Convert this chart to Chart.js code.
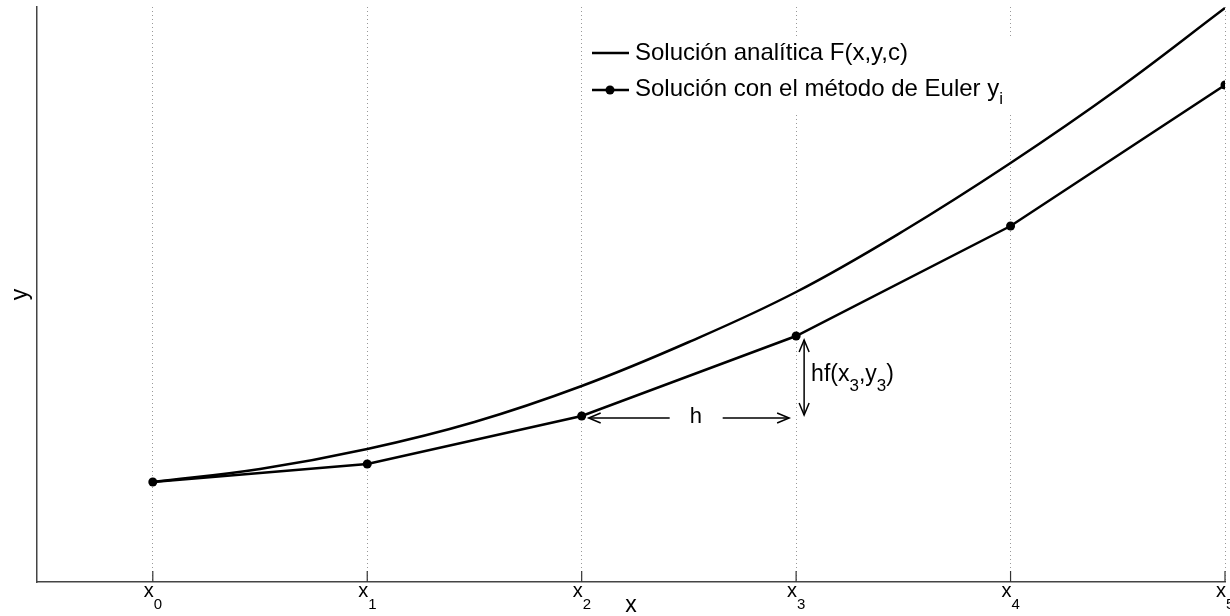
<!DOCTYPE html>
<html>
<head>
<meta charset="utf-8">
<script src="https://cdn.jsdelivr.net/npm/chart.js@4.4.1/dist/chart.umd.min.js"></script>
<style>
  body { margin: 0; background: #fff; }
  canvas { display: block; }
</style>
</head>
<body>
<canvas id="eulerChart" width="1230" height="616"></canvas>
<script>
/* Euler vs analytic solution */

const xTicks = [0, 1, 2, 3, 4, 5];
const tickSubs = ['0', '1', '2', '3', '4', '5'];

// analytic curve, read every half step
const analyticX = [0, 0.5, 1, 1.5, 2, 2.5, 3, 3.5, 4, 4.5, 5];
const analyticY = [1.00, 1.13, 1.33, 1.60, 1.96, 2.40, 2.90, 3.51, 4.19, 4.93, 5.74];

// Euler points y_i
const eulerX = [0, 1, 2, 3, 4, 5];
const eulerY = [1.00, 1.18, 1.66, 2.46, 3.56, 4.97];

const legendLabels = ['Solución analítica F(x,y,c)', 'Solución con el método de Euler y'];
const FONT = '"Liberation Sans", Arial, Helvetica, sans-serif';

function arrowHead(ctx, x, y, ang) {
    const len = 12, w = 5;
    const cx = x - len * Math.cos(ang), cy = y - len * Math.sin(ang);
    const px = -Math.sin(ang) * w, py = Math.cos(ang) * w;
    ctx.beginPath();
    ctx.moveTo(cx + px, cy + py);
    ctx.lineTo(x, y);
    ctx.lineTo(cx - px, cy - py);
    ctx.stroke();
}

function subText(ctx, parts, x, y, size) {
    // parts: [text, isSub]
    let cx = x;
    parts.forEach(([t, sub]) => {
        ctx.font = (sub ? Math.round(size * 0.72) : size) + 'px ' + FONT;
        ctx.fillText(t, cx, sub ? y + size * 0.45 : y);
        cx += ctx.measureText(t).width;
    });
}

const decorations = {
    id: 'decorations',
    afterDraw(chart) {
        const ctx = chart.ctx;
        const xs = chart.scales.x, ys = chart.scales.y;
        const area = chart.chartArea;
        ctx.save();

        // inward tick marks + labels
        ctx.strokeStyle = '#333';
        ctx.lineWidth = 1.2;
        ctx.fillStyle = '#000';
        xTicks.forEach((v, i) => {
            const px = xs.getPixelForValue(v);
            ctx.beginPath();
            ctx.moveTo(px, area.bottom);
            ctx.lineTo(px, area.bottom - 11);
            ctx.stroke();
            ctx.font = '20px ' + FONT;
            ctx.textAlign = 'right';
            ctx.textBaseline = 'alphabetic';
            ctx.fillText('x', px + 1, 597);
            ctx.textAlign = 'left';
            ctx.font = '15px ' + FONT;
            ctx.fillText(tickSubs[i], px + 1, 609);
        });

        // axis titles
        ctx.font = '23px ' + FONT;
        ctx.textAlign = 'center';
        ctx.textBaseline = 'alphabetic';
        ctx.fillText('x', (area.left + area.right) / 2, 612);
        ctx.save();
        ctx.translate(27, (area.top + area.bottom) / 2);
        ctx.rotate(-Math.PI / 2);
        ctx.fillText('y', 0, 0);
        ctx.restore();

        // legend
        ctx.fillStyle = '#fff';
        ctx.fillRect(584, 37, 450, 76);
        ctx.strokeStyle = '#000';
        ctx.lineWidth = 2.5;
        ctx.beginPath();
        ctx.moveTo(592, 53); ctx.lineTo(629, 53);
        ctx.moveTo(592, 90); ctx.lineTo(629, 90);
        ctx.stroke();
        ctx.fillStyle = '#000';
        ctx.beginPath();
        ctx.arc(610, 90, 4.5, 0, Math.PI * 2);
        ctx.fill();
        ctx.textAlign = 'left';
        ctx.textBaseline = 'middle';
        ctx.font = '24px ' + FONT;
        ctx.fillText(legendLabels[0], 635, 53);
        subText(ctx, [[legendLabels[1], false], ['i', true]], 635, 89, 24);

        // h arrows between x2 and x3
        const x2 = xs.getPixelForValue(eulerX[2]);
        const x3 = xs.getPixelForValue(eulerX[3]);
        const y2 = ys.getPixelForValue(eulerY[2]);
        const y3 = ys.getPixelForValue(eulerY[3]);
        const hy = y2 + 2;
        ctx.strokeStyle = '#000';
        ctx.lineWidth = 1.5;
        ctx.beginPath();
        ctx.moveTo(x2 + 88, hy); ctx.lineTo(x2 + 7, hy);
        ctx.moveTo(x2 + 141, hy); ctx.lineTo(x3 - 7, hy);
        ctx.stroke();
        arrowHead(ctx, x2 + 7, hy, Math.PI);
        arrowHead(ctx, x3 - 7, hy, 0);
        ctx.font = '22px ' + FONT;
        ctx.textAlign = 'center';
        ctx.textBaseline = 'middle';
        ctx.fillText('h', (x2 + x3) / 2 + 7, hy - 1);

        // vertical arrow hf(x3,y3)
        const vx = x3 + 8;
        ctx.beginPath();
        ctx.moveTo(vx, y3 + 4); ctx.lineTo(vx, y2 - 1);
        ctx.stroke();
        arrowHead(ctx, vx, y3 + 4, -Math.PI / 2);
        arrowHead(ctx, vx, y2 - 1, Math.PI / 2);
        ctx.textAlign = 'left';
        ctx.textBaseline = 'alphabetic';
        subText(ctx, [['hf(x', false], ['3', true], [',y', false], ['3', true], [')', false]], vx + 7, (y2 + y3) / 2 + 5, 23);

        ctx.restore();
    }
};

new Chart(document.getElementById('eulerChart'), {
    type: 'scatter',
    data: {
        datasets: [{
            label: legendLabels[0],
            data: analyticX.map((x, i) => ({ x: x, y: analyticY[i] })),
            showLine: true,
            borderColor: '#000',
            borderWidth: 2.5,
            pointRadius: 0,
            tension: 0.4
        }, {
            label: legendLabels[1],
            data: eulerX.map((x, i) => ({ x: x, y: eulerY[i] })),
            showLine: true,
            borderColor: '#000',
            backgroundColor: '#000',
            borderWidth: 2.5,
            pointRadius: 4.5,
            pointBorderWidth: 0
        }]
    },
    options: {
        responsive: false,
        devicePixelRatio: 1,
        animation: false,
        layout: { padding: { left: 37, top: 7, right: 5, bottom: 34 } },
        scales: {
            x: {
                type: 'linear',
                min: -0.54,
                max: 5,
                afterBuildTicks: s => { s.ticks = xTicks.map(v => ({ value: v })); },
                ticks: { display: false },
                grid: { color: '#999', lineWidth: 1, drawTicks: false },
                border: { display: true, color: '#444', width: 1.5, dash: [1, 3] }
            },
            y: {
                min: 0,
                max: 5.75,
                ticks: { display: false },
                grid: { display: false, drawTicks: false },
                border: { display: true, color: '#444', width: 1.5 }
            }
        },
        plugins: {
            legend: { display: false },
            tooltip: { enabled: false }
        }
    },
    plugins: [decorations]
});
</script>
</body>
</html>
